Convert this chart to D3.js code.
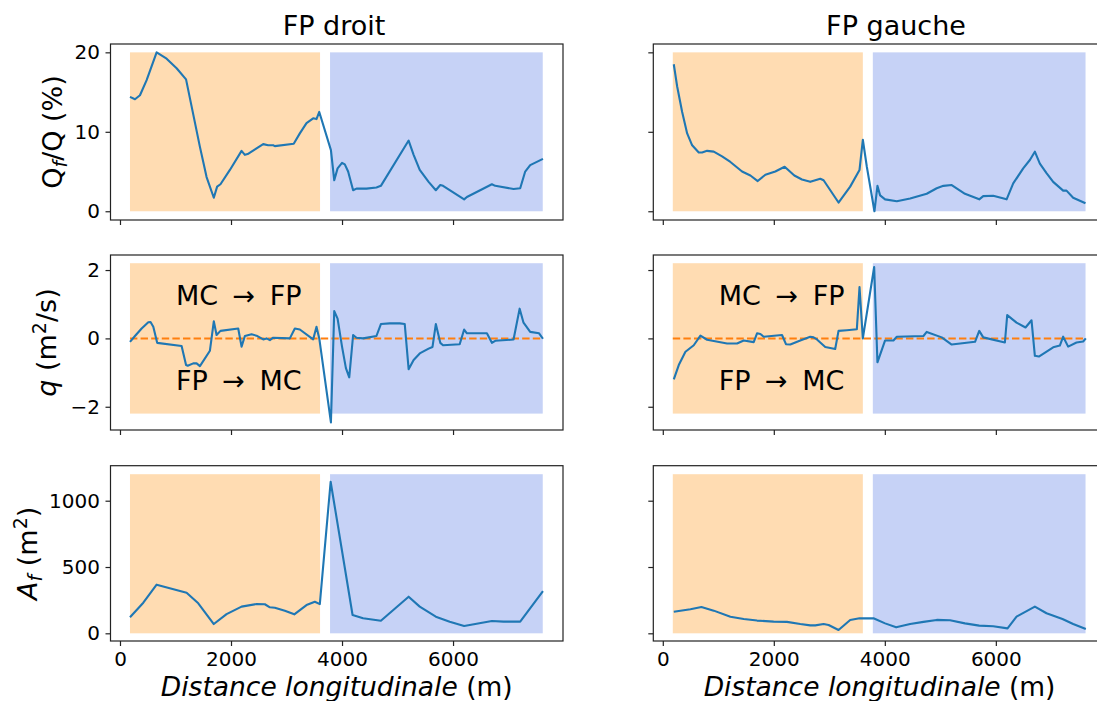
<!DOCTYPE html>
<html>
<head>
<meta charset="utf-8">
<script src="https://cdn.jsdelivr.net/npm/d3@7"></script>
<style>
  body { margin: 0; background: #fff; }
  svg { display: block; font-family: "DejaVu Sans", sans-serif; }
</style>
</head>
<body>
<div id="chart"></div>
<script>
// --- data (distance in m) ---
const xQfDroit = [180, 270, 360, 480, 660, 840, 1020, 1190, 1290, 1440, 1560, 1690, 1750, 1810, 1980, 2190, 2250, 2300, 2580, 2670, 2760, 2790, 3130, 3240, 3360, 3480, 3540, 3590, 3800, 3860, 3920, 4000, 4050, 4110, 4200, 4260, 4440, 4620, 4700, 5200, 5290, 5400, 5560, 5690, 5770, 5820, 6200, 6250, 6700, 6760, 7090, 7210, 7300, 7390, 7620];
const qfDroit = [14.4, 14.1, 14.6, 16.5, 20.0, 19.2, 18.0, 16.6, 13.2, 8.1, 4.3, 1.7, 3.1, 3.4, 5.2, 7.6, 7.1, 7.2, 8.45, 8.3, 8.3, 8.2, 8.5, 9.8, 11.1, 11.7, 11.6, 12.5, 7.7, 3.9, 5.4, 6.1, 5.9, 5.0, 2.65, 2.85, 2.85, 3.0, 3.2, 8.9, 7.1, 5.2, 3.7, 2.65, 3.3, 3.2, 1.5, 1.8, 3.4, 3.2, 2.8, 2.9, 5.0, 5.8, 6.6];

const xQfGauche = [198, 259, 349, 439, 529, 648, 708, 798, 918, 1068, 1218, 1428, 1578, 1710, 1848, 2027, 2195, 2370, 2507, 2657, 2837, 2897, 3166, 3376, 3544, 3604, 3676, 3813, 3867, 3915, 4005, 4216, 4456, 4755, 4935, 5055, 5205, 5444, 5701, 5773, 5953, 6194, 6313, 6493, 6613, 6703, 6793, 6913, 7033, 7213, 7273, 7393, 7615];
const qfGauche = [18.5, 15.7, 12.5, 9.8, 8.3, 7.4, 7.4, 7.6, 7.5, 6.9, 6.2, 5.0, 4.5, 3.8, 4.6, 5.0, 5.6, 4.5, 4.0, 3.7, 4.1, 3.9, 1.1, 3.1, 5.2, 9.0, 5.6, 0.0, 3.2, 2.0, 1.5, 1.26, 1.6, 2.2, 2.9, 3.2, 3.3, 2.2, 1.5, 1.9, 1.95, 1.5, 3.5, 5.4, 6.45, 7.5, 6.0, 4.8, 3.7, 2.6, 2.6, 1.7, 1.0];

const xQDroit = [180, 270, 390, 510, 550, 600, 670, 1110, 1190, 1220, 1320, 1380, 1440, 1620, 1690, 1740, 1810, 2130, 2190, 2250, 2370, 2460, 2580, 2640, 2700, 2760, 3060, 3150, 3240, 3480, 3540, 3590, 3800, 3860, 3920, 4000, 4070, 4130, 4200, 4260, 4380, 4620, 4700, 4860, 5040, 5130, 5200, 5290, 5400, 5560, 5630, 5690, 5770, 5820, 6120, 6200, 6250, 6610, 6700, 6760, 7090, 7200, 7270, 7390, 7550, 7620];
const qDroit = [-0.1, 0.07, 0.29, 0.47, 0.48, 0.34, -0.13, -0.22, -0.78, -0.8, -0.73, -0.73, -0.81, -0.36, 0.5, 0.1, 0.22, 0.29, -0.24, 0.07, 0.12, 0.08, -0.03, 0.0, -0.05, 0.02, 0.0, 0.29, 0.26, -0.03, 0.34, 0.0, -2.46, 0.8, 0.58, -0.24, -0.87, -1.14, 0.1, 0.02, 0.0, 0.07, 0.42, 0.44, 0.44, 0.42, -0.9, -0.63, -0.44, -0.3, -0.25, 0.42, -0.13, -0.2, -0.17, 0.26, 0.15, 0.15, -0.13, -0.07, -0.03, 0.87, 0.46, 0.19, 0.15, -0.01];

const xQGauche = [198, 288, 408, 558, 678, 798, 1158, 1338, 1458, 1638, 1698, 1758, 1818, 2148, 2219, 2297, 2477, 2657, 2717, 2777, 2927, 3106, 3166, 3316, 3496, 3544, 3604, 3808, 3867, 4005, 4155, 4216, 4696, 4755, 5025, 5205, 5625, 5701, 5773, 6163, 6205, 6373, 6535, 6643, 6703, 6775, 7033, 7153, 7213, 7303, 7453, 7573, 7621];
const qGauche = [-1.2, -0.78, -0.39, -0.2, 0.08, -0.04, -0.15, -0.15, -0.06, -0.11, 0.15, 0.13, 0.05, 0.1, -0.17, -0.18, -0.06, 0.05, 0.03, -0.03, -0.25, -0.31, 0.22, 0.24, 0.27, 1.5, 0.0, 2.09, -0.7, -0.06, -0.06, 0.05, 0.07, 0.19, 0.03, -0.18, -0.1, 0.22, 0.03, -0.12, 0.68, 0.46, 0.32, 0.53, -0.51, -0.53, -0.26, -0.21, 0.05, -0.24, -0.12, -0.09, 0.0];

const xAfDroit = [180, 420, 660, 1200, 1410, 1690, 1920, 2190, 2460, 2610, 2700, 2790, 2970, 3140, 3360, 3510, 3600, 3795, 4190, 4380, 4700, 5200, 5400, 5690, 5940, 6200, 6700, 6910, 7210, 7620];
const afDroit = [121, 231, 367, 306, 226, 70, 145, 201, 221, 219, 196, 193, 170, 143, 213, 238, 220, 1143, 138, 113, 95, 276, 201, 125, 88, 55, 93, 88, 88, 319];

const xAfGauche = [198, 498, 696, 918, 1218, 1458, 1698, 1997, 2237, 2477, 2657, 2747, 2897, 2987, 3166, 3376, 3544, 3796, 4005, 4204, 4456, 4696, 4935, 5175, 5444, 5701, 5953, 6211, 6373, 6703, 6913, 7200, 7393, 7621];
const afGauche = [163, 181, 198, 171, 125, 108, 96, 88, 86, 70, 60, 60, 70, 63, 25, 100, 113, 113, 75, 45, 70, 86, 101, 98, 75, 58, 53, 37, 126, 201, 151, 108, 70, 32];

// shaded reaches (m) and tick values
const zoneOrange = [180, 3604];
const zoneBlue = [3784, 7616];
const xTicks = [0, 2000, 4000, 6000];
const yTicksQf = [0, 10, 20];
const yTicksQ = [-2, 0, 2];
const yTicksAf = [0, 500, 1000];
const titles = ["FP droit", "FP gauche"];

const W = 1097, H = 701;
const svg = d3.select("#chart").append("svg")
    .attr("width", W)
    .attr("height", H);
svg.append("rect").attr("width", W).attr("height", H).attr("fill", "#fff");

const cols = [[110.5, 563], [653.3, 1105.8]];
const rows = [
    { top: 44, bottom: 220, domain: [-1.1, 21.05], ticks: yTicksQf, band: [0, 20] },
    { top: 255, bottom: 430, domain: [-2.68, 2.44], ticks: yTicksQ, band: [-2.2, 2.2] },
    { top: 465.7, bottom: 641, domain: [-58, 1264], ticks: yTicksAf, band: [0, 1200] }
];
const series = [
    [[xQfDroit, qfDroit], [xQfGauche, qfGauche]],
    [[xQDroit, qDroit], [xQGauche, qGauche]],
    [[xAfDroit, afDroit], [xAfGauche, afGauche]]
];

const fmt = d3.format("d");

rows.forEach((row, ri) => {
    cols.forEach((col, ci) => {
        const x = d3.scaleLinear().domain([-171, 7981]).range(col);
        const y = d3.scaleLinear().domain(row.domain).range([row.bottom, row.top]);
        const g = svg.append("g");

        // shaded zones
        g.append("rect")
            .attr("x", x(zoneOrange[0])).attr("width", x(zoneOrange[1]) - x(zoneOrange[0]))
            .attr("y", y(row.band[1])).attr("height", y(row.band[0]) - y(row.band[1]))
            .attr("fill", "#ff8c00").attr("fill-opacity", 0.3);
        g.append("rect")
            .attr("x", x(zoneBlue[0])).attr("width", x(zoneBlue[1]) - x(zoneBlue[0]))
            .attr("y", y(row.band[1])).attr("height", y(row.band[0]) - y(row.band[1]))
            .attr("fill", "#4169e1").attr("fill-opacity", 0.3);

        // zero line for the exchange row
        if (ri === 1) {
            g.append("line")
                .attr("x1", x(xQDroit[0])).attr("x2", x(7620))
                .attr("y1", y(0)).attr("y2", y(0))
                .attr("stroke", "#ff7f0e").attr("stroke-width", 2)
                .attr("stroke-dasharray", "7.4,3.2");
        }

        const [xs, ys] = series[ri][ci];
        const pts = xs.map((d, i) => [d, ys[i]]);
        g.append("path")
            .datum(pts)
            .attr("fill", "none")
            .attr("stroke", "#1f77b4")
            .attr("stroke-width", 2.1)
            .attr("stroke-linejoin", "round")
            .attr("d", d3.line().x(d => x(d[0])).y(d => y(d[1])));

        // annotations
        if (ri === 1) {
            [["MC → FP", 0.97], ["FP → MC", -1.51]].forEach(([t, v]) => {
                g.append("text")
                    .attr("x", x(2140)).attr("y", y(v))
                    .attr("text-anchor", "middle")
                    .attr("font-size", 27)
                    .attr("word-spacing", 6)
                    .attr("fill", "#000")
                    .text(t);
            });
        }

        // axes
        const ax = g.append("g")
            .attr("transform", `translate(0,${row.bottom})`)
            .call(d3.axisBottom(x).tickValues(xTicks).tickSize(5).tickPadding(6)
                .tickFormat(ri === 2 ? fmt : () => ""));
        const ay = g.append("g")
            .attr("transform", `translate(${col[0]},0)`)
            .call(d3.axisLeft(y).tickValues(row.ticks).tickSize(5).tickPadding(5.5)
                .tickFormat(ci === 0 ? fmt : () => ""));
        [ax, ay].forEach(a => {
            a.select(".domain").remove();
            a.selectAll("line").attr("stroke", "#222").attr("stroke-width", 1.2);
            a.selectAll("text").attr("font-size", 20).attr("fill", "#000")
                .attr("font-family", "DejaVu Sans");
        });

        g.append("rect")
            .attr("x", col[0]).attr("y", row.top)
            .attr("width", col[1] - col[0]).attr("height", row.bottom - row.top)
            .attr("fill", "none").attr("stroke", "#222").attr("stroke-width", 1.2);
    });
});

// column titles (positions as seen in the figure)
[334, 896].forEach((cx, ci) => {
    svg.append("text")
        .attr("x", cx).attr("y", 35)
        .attr("text-anchor", "middle").attr("font-size", 27).attr("fill", "#000")
        .text(titles[ci]);
});

// x labels
cols.forEach(col => {
    const t = svg.append("text")
        .attr("x", (col[0] + col[1]) / 2).attr("y", 695.5)
        .attr("text-anchor", "middle").attr("font-size", 26.5).attr("fill", "#000");
    t.append("tspan").attr("font-style", "italic").text("Distance longitudinale");
    t.append("tspan").text(" (m)");
});

// y labels
function yLabel(cx, cy, build) {
    const t = svg.append("text")
        .attr("transform", `translate(${cx},${cy}) rotate(-90)`)
        .attr("text-anchor", "middle").attr("font-size", 27).attr("fill", "#000");
    build(t);
}
yLabel(61.7, (rows[0].top + rows[0].bottom) / 2, t => {
    t.append("tspan").text("Q");
    t.append("tspan").attr("font-style", "italic").attr("font-size", 19).attr("dy", 5).text("f");
    t.append("tspan").attr("dy", -5).text("/Q (%)");
});
yLabel(56, (rows[1].top + rows[1].bottom) / 2, t => {
    t.append("tspan").attr("font-style", "italic").text("q");
    t.append("tspan").text(" (m");
    t.append("tspan").attr("font-size", 19).attr("dy", -10).text("2");
    t.append("tspan").attr("dy", 10).text("/s)");
});
yLabel(37, (rows[2].top + rows[2].bottom) / 2, t => {
    t.append("tspan").attr("font-style", "italic").text("A");
    t.append("tspan").attr("font-style", "italic").attr("font-size", 19).attr("dy", 5).text("f");
    t.append("tspan").attr("dy", -5).text(" (m");
    t.append("tspan").attr("font-size", 19).attr("dy", -10).text("2");
    t.append("tspan").attr("dy", 10).text(")");
});
</script>
</body>
</html>
